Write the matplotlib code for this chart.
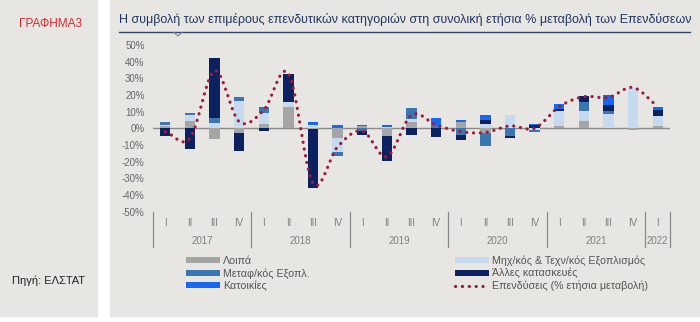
import numpy as np
import matplotlib.pyplot as plt
from matplotlib.patches import Rectangle
from matplotlib.lines import Line2D

plt.rcParams['font.family'] = ['Liberation Sans', 'DejaVu Sans']

# ─────────────────────────────────────────────
# DATA (% contributions)
# ─────────────────────────────────────────────
quarters = ['I', 'II', 'III', 'IV'] * 5 + ['I']
years    = ['2017', '2018', '2019', '2020', '2021', '2022']

loipa  = [1.5, 4.4, -6.6, -3.0, 2.6, 12.6, -0.5, -5.5, 1.2, -4.4, 4.0,
          0.0, 3.6, -3.0, 0.0, 0.0, 1.4, 4.4, 0.4, -0.8, 1.6]
mix    = [0.8, 3.4, 3.0, 16.6, 6.4, 3.4, 2.2, -8.5, 0.0, 0.6, 1.5,
          0.0, 0.0, 2.5, 8.0, -1.0, 9.0, 6.0, 8.4, 24.0, 5.8]
metaf  = [1.3, 1.6, 3.0, 2.0, 4.0, 0.0, 0.0, -2.5, -1.5, 0.0, 6.9,
          2.0, -4.0, -7.5, -4.5, -1.0, 0.0, 5.6, 1.6, 0.0, 0.0]
alles  = [-4.5, -12.4, 36.0, -10.4, -1.6, 16.6, -35.0, 0.0, -2.5, -15.2, -4.0,
          -5.0, -3.0, 2.5, -1.2, 2.0, 1.2, 3.4, 3.5, 0.0, 3.6]
katoik = [-0.3, 0.0, 0.0, 0.0, 0.0, 0.0, 1.6, 2.0, 0.8, 1.6, 0.0,
          4.0, 1.4, 3.0, 0.0, 0.5, 2.8, 0.3, 6.4, 0.0, 2.0]
total  = [-2.0, -6.0, 34.5, 4.0, 11.0, 33.0, -33.0, -11.0, -1.5, -17.0, 8.0,
          2.0, -2.0, -2.5, 1.5, 0.0, 13.0, 19.0, 18.5, 24.5, 13.0]

SERIES = [
    ("Λοιπά",                          loipa,  "#a5a5a5"),
    ("Μηχ/κός & Τεχν/κός Εξοπλισμός",  mix,    "#c6d9ef"),
    ("Μεταφ/κός Εξοπλ.",               metaf,  "#3a77b2"),
    ("Άλλες κατασκευές",               alles,  "#0c2260"),
    ("Κατοικίες",                      katoik, "#1668f0"),
]
LINE_NAME  = "Επενδύσεις (% ετήσια μεταβολή)"
LINE_COLOR = "#9c1c3c"
BG = "#e7e6e2"

def smooth(xs, ys, steps=16):
    # Catmull-Rom, like Excel's smoothed line
    xs = np.asarray(xs, float); ys = np.asarray(ys, float)
    px = np.r_[2 * xs[0] - xs[1], xs, 2 * xs[-1] - xs[-2]]
    py = np.r_[2 * ys[0] - ys[1], ys, 2 * ys[-1] - ys[-2]]
    ox, oy = [], []
    t = np.linspace(0, 1, steps, endpoint=False)
    for i in range(1, len(px) - 2):
        for p, o in ((px, ox), (py, oy)):
            p0, p1, p2, p3 = p[i - 1], p[i], p[i + 1], p[i + 2]
            o.extend(0.5 * (2 * p1 + (-p0 + p2) * t
                            + (2 * p0 - 5 * p1 + 4 * p2 - p3) * t ** 2
                            + (-p0 + 3 * p1 - 3 * p2 + p3) * t ** 3))
    ox.append(xs[-1]); oy.append(ys[-1])
    return np.array(ox), np.array(oy)

# ─────────────────────────────────────────────
# FIGURE / PANELS
# ─────────────────────────────────────────────
W, H = 700, 322
fig = plt.figure(figsize=(7, 3.22), dpi=100, facecolor='white')
fig.patches.append(Rectangle((0, 1 - 316 / H), 97 / W, 316 / H,
                             transform=fig.transFigure, color=BG, zorder=-10))
fig.patches.append(Rectangle((110 / W, 1 - 316 / H), 590 / W, 316 / H,
                             transform=fig.transFigure, color=BG, zorder=-10))

fig.text(50 / W, 1 - 24 / H, "ΓΡΑΦΗΜΑ3", color="#e3262b", fontsize=8.5,
         ha='center', va='center')
fig.text(119 / W, 1 - 19 / H,
         "Η συμβολή των επιμέρους επενδυτικών κατηγοριών στη συνολική ετήσια % μεταβολή των Επενδύσεων",
         color="#1f3864", fontsize=9, ha='left', va='center')
fig.lines.append(Line2D([119 / W, 690 / W], [1 - 32 / H] * 2, transform=fig.transFigure,
                        color="#33466b", lw=1, zorder=5))
fig.lines.append(Line2D([174 / W, 178 / W, 182 / W], [1 - 32.5 / H, 1 - 36 / H, 1 - 32.5 / H],
                        transform=fig.transFigure, color="#7d879e", lw=0.8, zorder=6))
fig.text(48 / W, 1 - 281 / H, "Πηγή: ΕΛΣΤΑΤ", color="#222222", fontsize=8,
         ha='center', va='center')

# ─────────────────────────────────────────────
# CHART
# ─────────────────────────────────────────────
ax = fig.add_axes([153 / W, 1 - 211.7 / H, (670 - 153) / W, (211.7 - 45) / H])
ax.patch.set_alpha(0)
n = len(total)
x = np.arange(n)

pos_bot = np.zeros(n)
neg_bot = np.zeros(n)
handles = {}
for name, vals, col in SERIES:
    v = np.array(vals, float)
    pos = np.where(v > 0, v, 0)
    neg = np.where(v < 0, v, 0)
    handles[name] = ax.bar(x, pos, bottom=pos_bot, width=0.42, color=col, zorder=2)
    ax.bar(x, neg, bottom=neg_bot, width=0.42, color=col, zorder=2)
    pos_bot += pos
    neg_bot += neg

ax.axhline(0, color="#8a8a8a", lw=1, zorder=1)
sx, sy = smooth(x, total)
line, = ax.plot(sx, sy, color=LINE_COLOR, lw=2.3, ls=(0, (0.05, 2.1)),
                dash_capstyle='round', zorder=4)

ax.set_xlim(-0.5, n - 0.5)
ax.set_ylim(-50, 50)
ax.set_yticks(np.arange(-50, 51, 10))
ax.set_yticklabels([f"{v}%" for v in range(-50, 51, 10)])
ax.tick_params(axis='y', length=0, pad=6, labelsize=7, labelcolor="#666666")
ax.set_xticks([])
for s in ax.spines.values():
    s.set_visible(False)

# two-level category axis
trans = ax.get_xaxis_transform()
q_y = -(223 - 211.7) / (211.7 - 45)
y_y = -(241 - 211.7) / (211.7 - 45)
bot = -(247 - 211.7) / (211.7 - 45)
for i, q in enumerate(quarters):
    ax.text(i, q_y, q, transform=trans, ha='center', va='center',
            fontsize=7, color="#808080")
edges = [-0.5, 3.5, 7.5, 11.5, 15.5, 19.5, 20.5]
for e in edges:
    ax.plot([e, e], [0, bot], transform=trans, color="#8a8a8a", lw=0.9, clip_on=False)
for k, yr in enumerate(years):
    ax.text((edges[k] + edges[k + 1]) / 2, y_y, yr, transform=trans, ha='center',
            va='center', fontsize=7, color="#808080")

# legend
order = ["Λοιπά", "Μεταφ/κός Εξοπλ.", "Κατοικίες",
         "Μηχ/κός & Τεχν/κός Εξοπλισμός", "Άλλες κατασκευές"]
leg_h = [handles[k] for k in order] + [line]
leg_l = order + [LINE_NAME]
fig.legend(leg_h, leg_l, ncol=2, loc='upper left',
           bbox_to_anchor=(176 / W, 1 - 246 / H), frameon=False,
           fontsize=7.7, handlelength=3.2, handleheight=0.45,
           columnspacing=13.55, labelspacing=0.18, handletextpad=0.3,
           labelcolor="#555555")

fig.savefig("out.png", dpi=100, facecolor=fig.get_facecolor())
